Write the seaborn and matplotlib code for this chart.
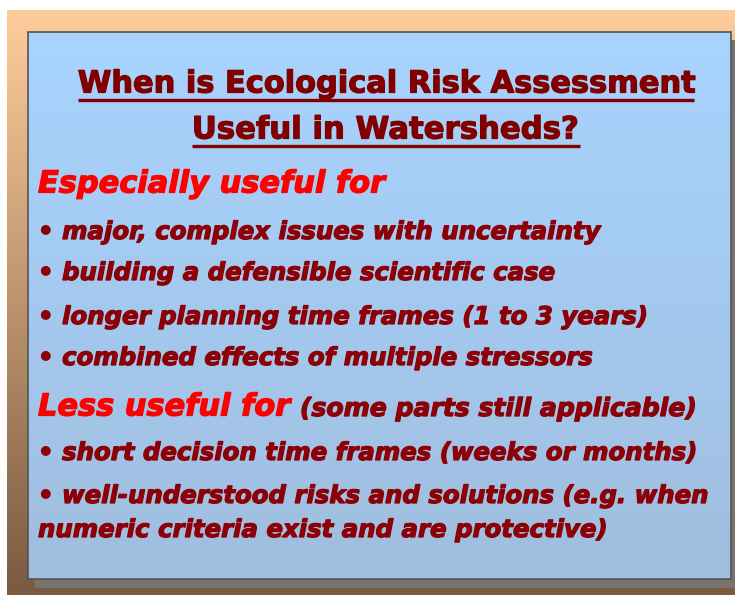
import numpy as np
import matplotlib
matplotlib.use("Agg")
import matplotlib.pyplot as plt
import matplotlib.patheffects as pe
import seaborn as sns

# slide text
title_lines = ["When is Ecological Risk Assessment", "Useful in Watersheds?"]
especially_header = "Especially useful for"
especially_items = [
    "• major, complex issues with uncertainty",
    "• building a defensible scientific case",
    "• longer planning time frames (1 to 3 years)",
    "• combined effects of multiple stressors",
]
less_header = "Less useful for"
less_note = "(some parts still applicable)"
less_items = [
    "• short decision time frames (weeks or months)",
    "• well-understood risks and solutions (e.g. when",
    "numeric criteria exist and are protective)",
]

sns.set_theme(style="white")
plt.rcParams["font.family"] = ["DejaVu Sans"]

W, H = 740, 595
fig = plt.figure(figsize=(W / 100, H / 100), dpi=100)
fig.patch.set_facecolor("white")
ax = fig.add_axes([0, 0, 1, 1])
ax.set_xlim(0, W)
ax.set_ylim(H, 0)
ax.axis("off")


def vgrad(top, bottom, n=256):
    top, bottom = np.array(top) / 255, np.array(bottom) / 255
    t = np.linspace(0, 1, n)[:, None, None]
    return (top * (1 - t) + bottom * t) * np.ones((1, 2, 1))


# peach-to-brown frame
ax.imshow(vgrad((255, 205, 155), (122, 90, 64)), extent=(7, 735, H, 10),
          aspect="auto", zorder=0, interpolation="bilinear")
# drop shadow
ax.add_patch(plt.Rectangle((35, 40), 700, 548, color=(0.47, 0.45, 0.43), zorder=1, lw=0))
# blue panel
ax.imshow(vgrad((168, 212, 255), (160, 190, 222)), extent=(28, 731, 579, 32),
          aspect="auto", zorder=2, interpolation="bilinear")
ax.add_patch(plt.Rectangle((28, 32), 703, 547, fill=False, ec="#555555", lw=1.2, zorder=3))

fig.canvas.draw()
renderer = fig.canvas.get_renderer()


def thick(color, w=0.9):
    return [pe.withStroke(linewidth=w, foreground=color)]


def fitted(x, y, s, width, ha="left", color="k", **kw):
    t = ax.text(x, y, s, ha=ha, va="center", zorder=5, color=color,
                path_effects=thick(color), **kw)
    w = t.get_window_extent(renderer).width
    t.set_fontsize(t.get_fontsize() * width / w)
    return t


dark = "#8c0008"
red = "#ff0000"
bold_it = dict(fontweight="bold", fontstyle="italic")

# title with underline
for line, y, width in zip(title_lines, [84, 130], [618, 387]):
    t = fitted(386, y, line, width, ha="center", fontsize=20, fontweight="bold", color="#800000")
    bb = t.get_window_extent(renderer)
    ax.plot([386 - bb.width / 2, 386 + bb.width / 2], [y + 16, y + 16],
            color="#800000", lw=2.4, zorder=5, solid_capstyle="butt")

# bullet size from the longest line, shared by all items
probe = fitted(38, -100, less_items[0], 660, fontsize=16, color=dark, **bold_it)
bsize = probe.get_fontsize()
probe.remove()

fitted(38, 184, especially_header, 347, fontsize=20, color=red, **bold_it)
for s, y in zip(especially_items, [232, 273, 317, 358]):
    ax.text(38, y, s, fontsize=bsize, color=dark, va="center", zorder=5,
            path_effects=thick(dark), **bold_it)

fitted(38, 407, less_header, 252, fontsize=20, color=red, **bold_it)
fitted(300, 409, less_note, 397, fontsize=16, color=dark, **bold_it)
for s, y in zip(less_items, [453, 496, 530]):
    ax.text(38, y, s, fontsize=bsize, color=dark, va="center", zorder=5,
            path_effects=thick(dark), **bold_it)

fig.savefig("out.png", dpi=100)
